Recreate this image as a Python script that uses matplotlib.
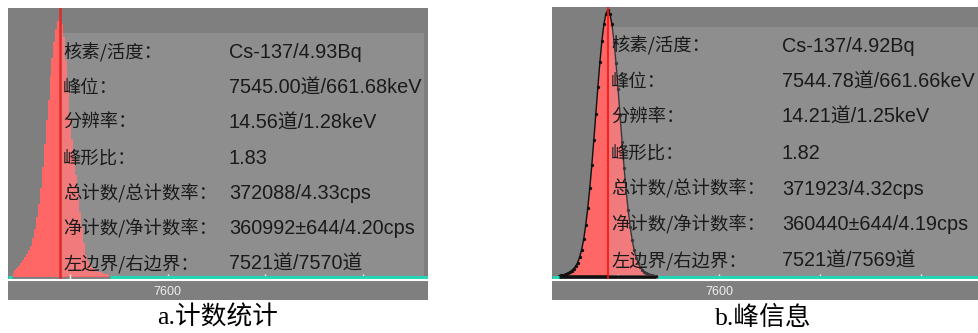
import matplotlib
matplotlib.use("Agg")
import matplotlib.pyplot as plt
from matplotlib.patches import Rectangle

# ---- spectrum data -------------------------------------------------------
# a: raw counts per channel inside the region of interest
channels_a = list(range(7521, 7571))
counts_a = [345, 575, 759, 966, 1196, 1472, 1748, 2024, 2346, 2760,
            3450, 4255, 5290, 6440, 7820, 9660, 11730, 13800, 15640, 17710,
            19320, 20700, 21850, 22540, 23000, 22310, 21160, 19090, 16560, 14030,
            12190, 10580, 8970, 7360, 5750, 4370, 2990, 1955, 1380, 1104,
            920, 782, 667, 575, 483, 414, 345, 276, 230, 184]
roi_a = (7521, 7570)
centroid_a = 7545.00

# b: fitted peak counts per channel
channels_b = list(range(7521, 7570))
counts_b = [97, 146, 195, 268, 341, 438, 584, 754, 973, 1314,
            1825, 2506, 3455, 4720, 6277, 8102, 10170, 12457, 14890, 17274,
            19561, 21508, 23041, 23989, 24330, 23989, 23016, 21459, 19464, 17153,
            14720, 12287, 9975, 7907, 6083, 4574, 3358, 2433, 1752, 1265,
            925, 681, 487, 365, 268, 195, 146, 97, 73]
roi_b = (7521, 7569)
baseline_b = [0, 0]
centroid_b = 7544.78

tick_values = [7550, 7600, 7650, 7700]
tick_labels = ["", "7600", "", ""]

labels = ["核素/活度：", "峰位：", "分辨率：", "峰形比：",
          "总计数/总计数率：", "净计数/净计数率：", "左边界/右边界："]
values_a = ["Cs-137/4.93Bq", "7545.00道/661.68keV", "14.56道/1.28keV", "1.83",
            "372088/4.33cps", "360992±644/4.20cps", "7521道/7570道"]
values_b = ["Cs-137/4.92Bq", "7544.78道/661.66keV", "14.21道/1.25keV", "1.82",
            "371923/4.32cps", "360440±644/4.19cps", "7521道/7569道"]
captions = ["a.计数统计", "b.峰信息"]

# ---- styling -------------------------------------------------------------
W, H = 979, 333
BG = "#7f7f7f"
PEAK = "#ff6666"
CYAN = "#22d6b6"
TXT = "#1a1a1a"
CJK = ["Noto Sans CJK SC", "DejaVu Sans"]
LATIN = ["Liberation Sans", "Noto Sans CJK SC"]

fig = plt.figure(figsize=(W / 100, H / 100), dpi=100)
fig.patch.set_facecolor("white")


def panel(x0, y0, x1, y1, xlim, ylim):
    ax = fig.add_axes([x0 / W, 1 - y1 / H, (x1 - x0) / W, (y1 - y0) / H])
    ax.set_facecolor(BG)
    ax.set_xlim(*xlim)
    ax.set_ylim(*ylim)
    for side in ("top", "left", "right"):
        ax.spines[side].set_visible(False)
    ax.spines["bottom"].set_color("white")
    ax.spines["bottom"].set_linewidth(1.5)
    ax.spines["bottom"].set_zorder(6)
    ax.set_yticks([])
    ax.set_xticks(tick_values)
    ax.set_xticklabels(tick_labels)
    ax.tick_params(axis="x", direction="in", length=4, width=1, color="white",
                   labelcolor="#eeeeee", labelsize=9, pad=4)
    for t in ax.get_xticklabels():
        t.set_fontfamily(LATIN)
    # strip under the axis line holding the channel labels
    fig.add_artist(Rectangle((x0 / W, 1 - 300 / H), (x1 - x0) / W, (300 - y1) / H,
                             transform=fig.transFigure, facecolor=BG,
                             edgecolor="none", zorder=-1))
    return ax


def info_box(ax, x0_frac, y0_frac, x1_frac, y1_frac):
    ax.add_patch(Rectangle((x0_frac, y0_frac), x1_frac - x0_frac, y1_frac - y0_frac,
                           transform=ax.transAxes, facecolor="#c0c0c8",
                           alpha=0.23, edgecolor="none", zorder=3))


def info_text(x_lab, x_val, rows, values):
    for y, lab, val in zip(rows, labels, values):
        fig.text(x_lab / W, 1 - y / H, lab, ha="left", va="center",
                 fontsize=13.2, color=TXT, family=CJK, zorder=10)
        fig.text(x_val / W, 1 - y / H, val, ha="left", va="center",
                 fontsize=14.3, color=TXT, family=LATIN, zorder=10)


# ---- panel a: count statistics ------------------------------------------
ax_a = panel(8, 8, 428, 280, (7518.25, 7733.3), (-264, 23705))
ax_a.fill_between(channels_a, counts_a, step="mid", color=PEAK, lw=0, zorder=1)
ax_a.axvline(centroid_a, color="#dd2a2a", lw=1.8, zorder=2)
info_box(ax_a, 54 / 420, 4 / 272, 416 / 420, 247 / 272)
ax_a.hlines(0, ax_a.get_xlim()[0], roi_a[0] - 0.5, color=CYAN, lw=2.2, zorder=5)
ax_a.hlines(0, roi_a[1] + 0.5, ax_a.get_xlim()[1], color=CYAN, lw=2.2, zorder=5)
rows_a = [52.5 + 35.25 * i for i in range(len(labels))]
info_text(63, 229, rows_a, values_a)

# ---- panel b: peak information ------------------------------------------
ax_b = panel(552, 7, 979, 280, (7517.3, 7728.7), (-273, 24603))
ax_b.fill_between(channels_b, counts_b, color=PEAK, lw=0, zorder=1)
ax_b.plot(channels_b, counts_b, color="#111111", lw=1.0, marker=".",
          ms=2.8, zorder=2)
ax_b.plot(roi_b, baseline_b, color="#111111", lw=2.6, zorder=2,
          solid_capstyle="butt")
ax_b.axvline(centroid_b, color="#ff1010", lw=1.2, zorder=2)
info_box(ax_b, 57 / 427, 4 / 273, 1.0, 253 / 273)
ax_b.hlines(0, ax_b.get_xlim()[0], roi_b[0], color=CYAN, lw=2.2, zorder=5)
ax_b.hlines(0, roi_b[1] + 1, ax_b.get_xlim()[1], color=CYAN, lw=2.2, zorder=5)
rows_b = [46 + 35.8 * i for i in range(len(labels))]
info_text(611, 782, rows_b, values_b)

# ---- captions ------------------------------------------------------------
for xc, cap in zip((218, 763), captions):
    fig.text(xc / W, 1 - 318 / H, cap, ha="center", va="center", fontsize=18.5,
             color="black", family=["Liberation Serif", "Noto Sans CJK SC"])

fig.savefig("out.png", dpi=100, facecolor="white")
